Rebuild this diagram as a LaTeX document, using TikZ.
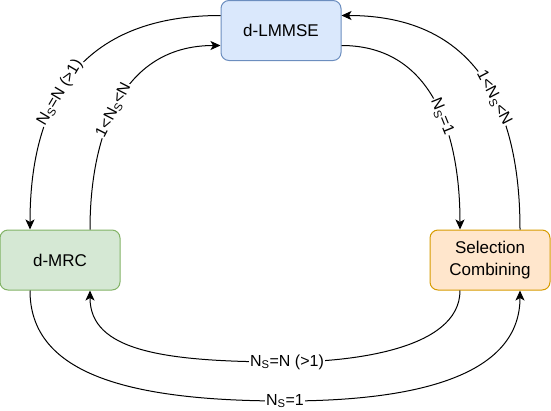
\documentclass[tikz,border=0pt]{standalone}
\usepackage{fontspec}
\setmainfont{Liberation Sans}
\usetikzlibrary{arrows.meta}
\definecolor{BlueFill}{HTML}{DAE8FC}
\definecolor{BlueLine}{HTML}{6C8EBF}
\definecolor{GreenFill}{HTML}{D5E8D4}
\definecolor{GreenLine}{HTML}{82B366}
\definecolor{OrangeFill}{HTML}{FFE6CC}
\definecolor{OrangeLine}{HTML}{D79B00}
\tikzset{
	blk/.style={draw, line width=1pt, rounded corners=8pt, minimum width=120pt,
		minimum height=60pt, align=center, font=\fontsize{17}{22}\selectfont},
	link/.style={-{Stealth[length=10pt, width=9pt, inset=2.5pt]}, line width=1pt},
	elab/.style={fill=white, inner sep=1pt, font=\fontsize{16}{19}\selectfont}
}

\begin{document}
\begin{tikzpicture}[x=1pt, y=-1pt]
		\useasboundingbox (0,0) rectangle (551,410);
		\node[blk, fill=BlueFill, draw=BlueLine] (lmmse) at (281,30.5) {d-LMMSE};
		\node[blk, fill=GreenFill, draw=GreenLine] (mrc) at (60,260) {d-MRC};
		\node[blk, fill=OrangeFill, draw=OrangeLine] (sc) at (490,260) {Selection\\Combining};
		% upper arcs
		\draw[link] ([yshift=15pt]lmmse.west) .. controls +(-161,0) and +(0,-100) ..
			node[elab, sloped, pos=0.53] {N\textsubscript{S}=N (>1)} ([xshift=-30pt]mrc.north);
		\draw[link] ([xshift=30pt]mrc.north) .. controls +(0,-90) and +(-101,0) ..
			node[elab, sloped, pos=0.47] {1<N\textsubscript{S}<N} ([yshift=-15pt]lmmse.west);
		\draw[link] ([yshift=-15pt]lmmse.east) .. controls +(94,0) and +(0,-90) ..
			node[elab, sloped, pos=0.56] {N\textsubscript{S}=1} ([xshift=-30pt]sc.north);
		\draw[link] ([xshift=30pt]sc.north) .. controls +(0,-100) and +(149,0) ..
			node[elab, sloped, pos=0.45] {1<N\textsubscript{S}<N} ([yshift=15pt]lmmse.east);
		% lower arcs
		\draw[link] ([xshift=-30pt]sc.south) .. controls +(0,60) and +(60,0) ..
			(287,362) node[elab] {N\textsubscript{S}=N (>1)}
			.. controls +(-125,0) and +(0,60) .. ([xshift=30pt]mrc.south);
		\draw[link] ([xshift=-30pt]mrc.south) .. controls +(0,80) and +(-165,0) ..
			(285,401) node[elab] {N\textsubscript{S}=1}
			.. controls +(145,0) and +(0,80) .. ([xshift=30pt]sc.south);
	\end{tikzpicture}
\end{document}
